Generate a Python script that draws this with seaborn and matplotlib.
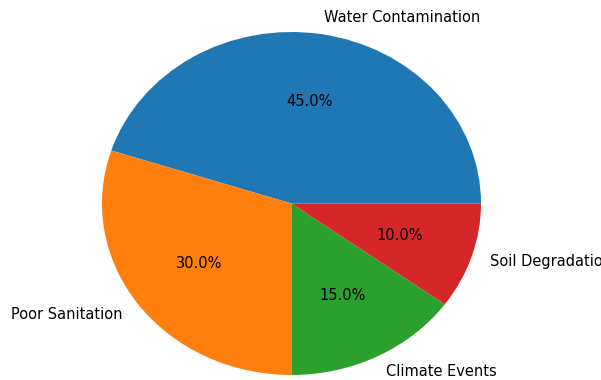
import matplotlib
matplotlib.use("Agg")
from matplotlib import pyplot as plt
import seaborn as sns

categories = ['Water Contamination', 'Poor Sanitation', 'Climate Events', 'Soil Degradation']
shares = [45, 30, 15, 10]

colors = sns.color_palette('tab10', 4)

fig = plt.figure(figsize=(6.01, 3.8), dpi=100)
ax = fig.add_axes([0, 0, 1, 1])
ax.pie(shares, labels=categories, colors=colors, autopct='%1.1f%%',
       textprops={'fontsize': 10.5})
# stretched pie, as in the reference
ax.set_aspect('auto')
ax.set_xlim(-291.5 / 189.5, (601 - 291.5) / 189.5)
ax.set_ylim(-(380 - 203.5) / 171.5, 203.5 / 171.5)

plt.savefig('out.png', dpi=100)
